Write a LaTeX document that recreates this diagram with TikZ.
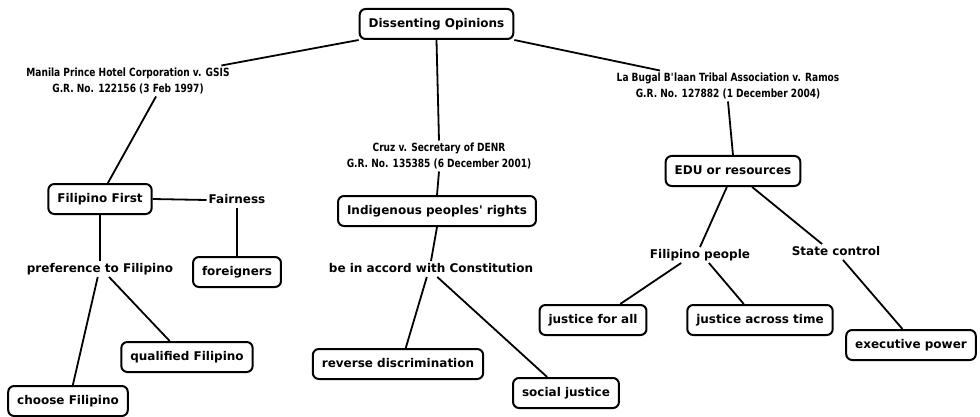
\documentclass[tikz,border=0pt]{standalone}
\usepackage{fontspec}
\setmainfont{DejaVu Sans}
\newfontfamily\casefont{DejaVu Sans}[FakeStretch=0.8]
\usetikzlibrary{calc}
\tikzset{
  box/.style={draw=black, line width=2pt, rounded corners=6pt, fill=white,
    inner xsep=9pt, inner ysep=0pt, minimum height=30pt,
    text height=9pt, text depth=2.5pt,
    font=\fontsize{12}{14}\selectfont\bfseries},
  lbl/.style={inner sep=2pt, text height=9pt, text depth=2.5pt,
    font=\fontsize{12}{14}\selectfont\bfseries},
  caselbl/.style={inner sep=2pt, align=center,
    font=\casefont\fontsize{11.3}{16.5}\selectfont\bfseries},
  conn/.style={draw=black, line width=1.8pt}
}
\begin{document}
\begin{tikzpicture}[x=1pt,y=-1pt]
\useasboundingbox (0,0) rectangle (980,417);
% nodes
\node[box] (top) at (436.5,24) {Dissenting Opinions};
\node[caselbl] (manila) at (128,81) {Manila Prince Hotel Corporation v. GSIS\\G.R. No. 122156 (3 Feb 1997)};
\node[caselbl] (cruz) at (439,156) {Cruz v. Secretary of DENR\\G.R. No. 135385 (6 December 2001)};
\node[caselbl] (labugal) at (728,86) {La Bugal B\textquotesingle laan Tribal Association v. Ramos\\G.R. No. 127882 (1 December 2004)};
\node[box] (ff) at (100,199) {Filipino First};
\node[lbl] (fair) at (237,200) {Fairness};
\node[box] (foreign) at (237,272) {foreigners};
\node[lbl] (pref) at (100,269) {preference to Filipino};
\node[box] (qual) at (187,357) {qualified Filipino};
\node[box] (choose) at (68,401) {choose Filipino};
\node[box] (indig) at (437,211) {Indigenous peoples\textquotesingle\ rights};
\node[lbl] (accord) at (431,269) {be in accord with Constitution};
\node[box] (rev) at (398,364) {reverse discrimination};
\node[box] (social) at (566,393) {social justice};
\node[box] (edu) at (733,171) {EDU or resources};
\node[lbl] (fpeople) at (700,255) {Filipino people};
\node[lbl] (state) at (836,252) {State control};
\node[box] (jall) at (593,320) {justice for all};
\node[box] (jtime) at (760,320) {justice across time};
\node[box] (exec) at (911,345) {executive power};
% connectors
\draw[conn] (top.south west) -- ($(manila.north east)!0.1!(manila.north)$);
\draw[conn] (top.south) -- (cruz.north);
\draw[conn] (top.south east) -- ($(labugal.north)!0.6!(labugal.north west)$);
\draw[conn] ($(manila.south)!0.27!(manila.south east)$) -- ($(ff.north)!0.15!(ff.north east)$);
\draw[conn] (cruz.south) -- (indig.north);
\draw[conn] (labugal.south) -- (edu.north);
\draw[conn] (ff.east) -- (fair.west);
\draw[conn] (fair.south) -- (foreign.north);
\draw[conn] (ff.south) -- (pref.north);
\draw[conn] ($(pref.south)!0.03!(pref.south west)$) -- ($(choose.north)!0.08!(choose.north east)$);
\draw[conn] ($(pref.south)!0.12!(pref.south east)$) -- ($(qual.north)!0.26!(qual.north west)$);
\draw[conn] (indig.south) -- (accord.north);
\draw[conn] ($(accord.south)!0.04!(accord.south west)$) -- ($(rev.north)!0.09!(rev.north east)$);
\draw[conn] ($(accord.south)!0.06!(accord.south east)$) -- ($(social.north)!0.35!(social.north west)$);
\draw[conn] ($(edu.south)!0.09!(edu.south west)$) -- (fpeople.north);
\draw[conn] ($(edu.south)!0.28!(edu.south east)$) -- ($(state.north)!0.3!(state.north west)$);
\draw[conn] ($(fpeople.south)!0.36!(fpeople.south west)$) -- ($(jall.north)!0.5!(jall.north east)$);
\draw[conn] ($(fpeople.south)!0.17!(fpeople.south east)$) -- ($(jtime.north)!0.22!(jtime.north west)$);
\draw[conn] ($(state.south)!0.15!(state.south east)$) -- ($(exec.north)!0.13!(exec.north west)$);
\end{tikzpicture}
\end{document}
